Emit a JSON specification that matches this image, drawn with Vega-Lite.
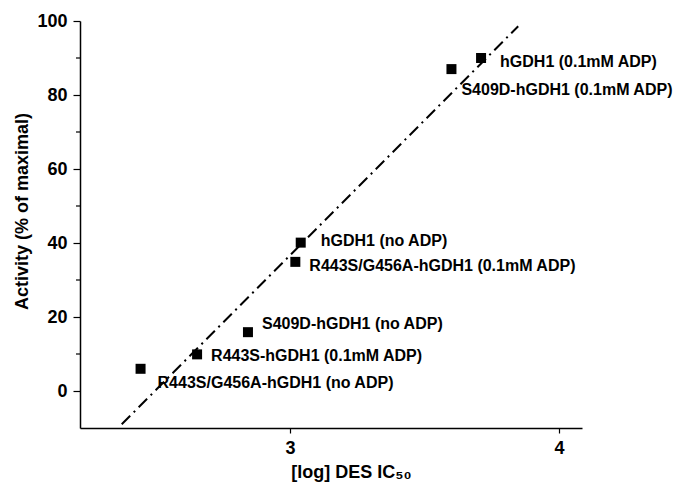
{
  "$schema": "https://vega.github.io/schema/vega-lite/v6.json",
  "width": 502,
  "height": 407,
  "autosize": "none",
  "padding": {"left": 80, "top": 21, "right": 99, "bottom": 65},
  "background": "white",
  "config": {
    "view": {"stroke": null},
    "font": "Liberation Sans",
    "axis": {
      "grid": false,
      "domainColor": "black",
      "domainWidth": 1.5,
      "tickColor": "black",
      "tickWidth": 1.2,
      "labelFont": "Liberation Sans",
      "labelFontWeight": "bold",
      "labelFontSize": 18,
      "labelColor": "black",
      "titleFont": "Liberation Sans",
      "titleFontWeight": "bold",
      "titleFontSize": 18,
      "titleColor": "black"
    }
  },
  "datasets": {
    "points": [
      {"ic50": 3.71, "activity": 90.0, "name": "hGDH1 (0.1mM ADP)"},
      {"ic50": 3.60, "activity": 87.0, "name": "S409D-hGDH1 (0.1mM ADP)"},
      {"ic50": 3.04, "activity": 40.1, "name": "hGDH1 (no ADP)"},
      {"ic50": 3.02, "activity": 34.9, "name": "R443S/G456A-hGDH1 (0.1mM ADP)"},
      {"ic50": 2.844, "activity": 15.9, "name": "S409D-hGDH1 (no ADP)"},
      {"ic50": 2.655, "activity": 9.9, "name": "R443S-hGDH1 (0.1mM ADP)"},
      {"ic50": 2.445, "activity": 6.0, "name": "R443S/G456A-hGDH1 (no ADP)"}
    ],
    "fit": [
      {"ic50": 2.375, "activity": -9.0},
      {"ic50": 3.848, "activity": 98.6}
    ],
    "minorTicks": [
      {"activity": 10}, {"activity": 30}, {"activity": 50}, {"activity": 70}, {"activity": 90}
    ]
  },
  "layer": [
    {
      "data": {"name": "fit"},
      "mark": {"type": "line", "color": "black", "strokeWidth": 2, "strokeDash": [12, 5, 2, 5]},
      "encoding": {
        "x": {
          "field": "ic50", "type": "quantitative",
          "scale": {"domain": [2.22, 4.085], "nice": false, "zero": false},
          "axis": {
            "title": "[log] DES IC₅₀",
            "values": [3, 4],
            "format": "d",
            "tickSize": 5,
            "labelPadding": 6,
            "titleX": 271,
            "titleY": 44,
            "titleBaseline": "middle",
            "titleAlign": "center"
          }
        },
        "y": {
          "field": "activity", "type": "quantitative",
          "scale": {"domain": [-10, 100], "nice": false, "zero": false},
          "axis": {
            "title": "Activity (% of maximal)",
            "values": [0, 20, 40, 60, 80, 100],
            "tickSize": 7,
            "labelPadding": 6,
            "titleX": -58,
            "titleY": 190,
            "titleBaseline": "middle",
            "titleAlign": "center"
          }
        }
      }
    },
    {
      "data": {"name": "minorTicks"},
      "mark": {"type": "tick", "orient": "horizontal", "color": "black", "size": 4, "thickness": 1.2, "xOffset": -2, "opacity": 1, "clip": false},
      "encoding": {
        "x": {"datum": 2.22, "type": "quantitative"},
        "y": {"field": "activity", "type": "quantitative"}
      }
    },
    {
      "data": {"name": "points"},
      "mark": {"type": "point", "shape": "square", "filled": true, "color": "black", "size": 100, "opacity": 1},
      "encoding": {
        "x": {"field": "ic50", "type": "quantitative"},
        "y": {"field": "activity", "type": "quantitative"}
      }
    },
    {
      "data": {"name": "points"},
      "transform": [{"filter": "datum.name === 'hGDH1 (0.1mM ADP)'"}],
      "mark": {"type": "text", "align": "left", "baseline": "middle", "dx": 19, "dy": 3.5, "fontSize": 16, "fontWeight": "bold", "font": "Liberation Sans", "color": "black"},
      "encoding": {"x": {"field": "ic50", "type": "quantitative"}, "y": {"field": "activity", "type": "quantitative"}, "text": {"field": "name"}}
    },
    {
      "data": {"name": "points"},
      "transform": [{"filter": "datum.name === 'S409D-hGDH1 (0.1mM ADP)'"}],
      "mark": {"type": "text", "align": "left", "baseline": "middle", "dx": 10, "dy": 21, "fontSize": 16, "fontWeight": "bold", "font": "Liberation Sans", "color": "black"},
      "encoding": {"x": {"field": "ic50", "type": "quantitative"}, "y": {"field": "activity", "type": "quantitative"}, "text": {"field": "name"}}
    },
    {
      "data": {"name": "points"},
      "transform": [{"filter": "datum.name === 'hGDH1 (no ADP)'"}],
      "mark": {"type": "text", "align": "left", "baseline": "middle", "dx": 20, "dy": -2, "fontSize": 16, "fontWeight": "bold", "font": "Liberation Sans", "color": "black"},
      "encoding": {"x": {"field": "ic50", "type": "quantitative"}, "y": {"field": "activity", "type": "quantitative"}, "text": {"field": "name"}}
    },
    {
      "data": {"name": "points"},
      "transform": [{"filter": "datum.name === 'R443S/G456A-hGDH1 (0.1mM ADP)'"}],
      "mark": {"type": "text", "align": "left", "baseline": "middle", "dx": 14, "dy": 4, "fontSize": 16, "fontWeight": "bold", "font": "Liberation Sans", "color": "black"},
      "encoding": {"x": {"field": "ic50", "type": "quantitative"}, "y": {"field": "activity", "type": "quantitative"}, "text": {"field": "name"}}
    },
    {
      "data": {"name": "points"},
      "transform": [{"filter": "datum.name === 'S409D-hGDH1 (no ADP)'"}],
      "mark": {"type": "text", "align": "left", "baseline": "middle", "dx": 14, "dy": -8, "fontSize": 16, "fontWeight": "bold", "font": "Liberation Sans", "color": "black"},
      "encoding": {"x": {"field": "ic50", "type": "quantitative"}, "y": {"field": "activity", "type": "quantitative"}, "text": {"field": "name"}}
    },
    {
      "data": {"name": "points"},
      "transform": [{"filter": "datum.name === 'R443S-hGDH1 (0.1mM ADP)'"}],
      "mark": {"type": "text", "align": "left", "baseline": "middle", "dx": 14, "dy": 2, "fontSize": 16, "fontWeight": "bold", "font": "Liberation Sans", "color": "black"},
      "encoding": {"x": {"field": "ic50", "type": "quantitative"}, "y": {"field": "activity", "type": "quantitative"}, "text": {"field": "name"}}
    },
    {
      "data": {"name": "points"},
      "transform": [{"filter": "datum.name === 'R443S/G456A-hGDH1 (no ADP)'"}],
      "mark": {"type": "text", "align": "left", "baseline": "middle", "dx": 17, "dy": 14, "fontSize": 16, "fontWeight": "bold", "font": "Liberation Sans", "color": "black"},
      "encoding": {"x": {"field": "ic50", "type": "quantitative"}, "y": {"field": "activity", "type": "quantitative"}, "text": {"field": "name"}}
    }
  ]
}
